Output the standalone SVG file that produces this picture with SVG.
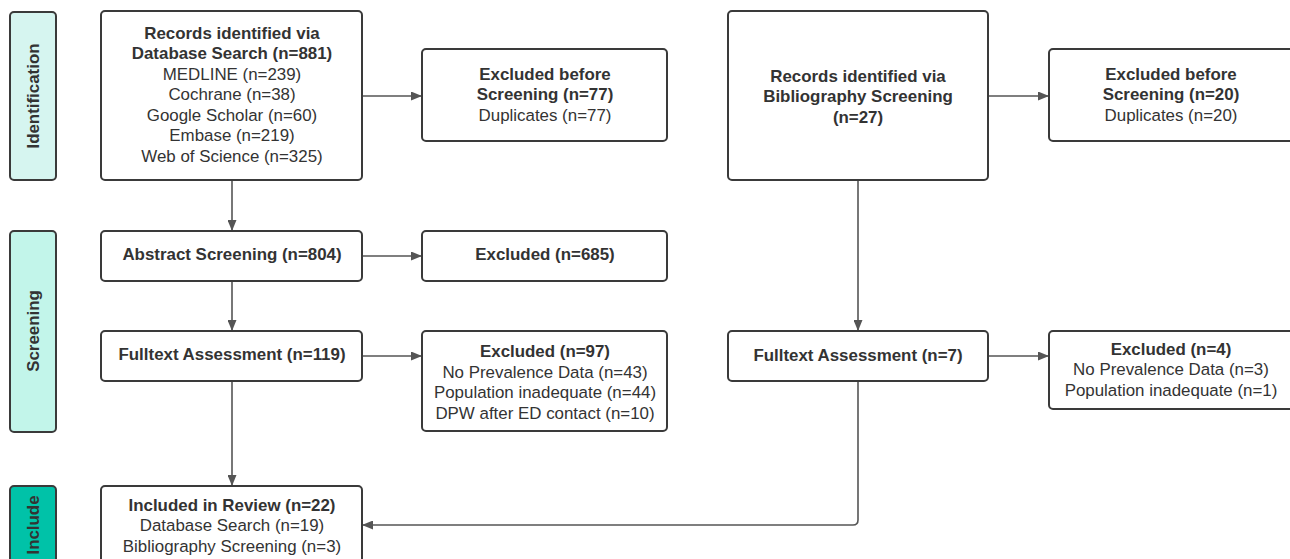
<svg xmlns="http://www.w3.org/2000/svg" width="1290" height="559" viewBox="0 0 1290 559">
<style>
.box{fill:#fff;stroke:#3a3a3a;stroke-width:2}
.t{font-family:"Liberation Sans",Arial,sans-serif;font-size:16.9px;fill:#333;text-anchor:middle}
.b{font-weight:bold}
.side{stroke:#3a3a3a;stroke-width:2}
.c{fill:none;stroke:#555;stroke-width:1.6}
</style>
<defs>
<marker id="ah" viewBox="0 0 11 9" refX="11" refY="4.5" markerWidth="11" markerHeight="9" markerUnits="userSpaceOnUse" orient="auto">
<path d="M0,0 L11,4.5 L0,9 Z" fill="#555"/>
</marker>
</defs>
<rect width="1290" height="559" fill="#fff"/>

<g id="lane-identification">
<rect class="side" x="10" y="12" width="46" height="168" rx="4" fill="#d6f5f0"/>
<text class="t b" transform="translate(39,96) rotate(-90)">Identification</text>
</g>
<g id="lane-screening">
<rect class="side" x="10" y="231" width="46" height="201" rx="4" fill="#c2f5ea"/>
<text class="t b" transform="translate(39,331) rotate(-90)">Screening</text>
</g>
<g id="lane-include">
<rect class="side" x="10" y="486" width="46" height="90" rx="4" fill="#00c2a8"/>
<text class="t b" transform="translate(39,525) rotate(-90)">Include</text>
</g>

<g id="connectors">
<line class="c" x1="362" y1="96" x2="422" y2="96" marker-end="url(#ah)"/>
<line class="c" x1="232" y1="180" x2="232" y2="231" marker-end="url(#ah)"/>
<line class="c" x1="362" y1="256" x2="422" y2="256" marker-end="url(#ah)"/>
<line class="c" x1="232" y1="281" x2="232" y2="331" marker-end="url(#ah)"/>
<line class="c" x1="362" y1="356" x2="422" y2="356" marker-end="url(#ah)"/>
<line class="c" x1="232" y1="381" x2="232" y2="486" marker-end="url(#ah)"/>
<line class="c" x1="988" y1="96" x2="1049" y2="96" marker-end="url(#ah)"/>
<line class="c" x1="858" y1="180" x2="858" y2="331" marker-end="url(#ah)"/>
<line class="c" x1="988" y1="356" x2="1049" y2="356" marker-end="url(#ah)"/>
<path class="c" d="M858,381 L858,520 Q858,525 853,525 L362,525" marker-end="url(#ah)"/>
</g>

<g id="db-search">
<rect class="box" x="101" y="11" width="261" height="169" rx="4"/>
<text class="t b" x="232" y="39">Records identified via</text>
<text class="t b" x="232" y="59">Database Search (n=881)</text>
<text class="t" x="232" y="80">MEDLINE (n=239)</text>
<text class="t" x="232" y="100">Cochrane (n=38)</text>
<text class="t" x="232" y="121">Google Scholar (n=60)</text>
<text class="t" x="232" y="141">Embase (n=219)</text>
<text class="t" x="232" y="162">Web of Science (n=325)</text>
</g>
<g id="excl-before-77">
<rect class="box" x="422" y="49" width="245" height="92" rx="4"/>
<text class="t b" x="545" y="80">Excluded before</text>
<text class="t b" x="545" y="100">Screening (n=77)</text>
<text class="t" x="545" y="121">Duplicates (n=77)</text>
</g>
<g id="biblio">
<rect class="box" x="728" y="11" width="260" height="169" rx="4"/>
<text class="t b" x="858" y="82">Records identified via</text>
<text class="t b" x="858" y="102">Bibliography Screening</text>
<text class="t b" x="858" y="123">(n=27)</text>
</g>
<g id="excl-before-20">
<rect class="box" x="1049" y="49" width="245" height="92" rx="4"/>
<text class="t b" x="1171" y="80">Excluded before</text>
<text class="t b" x="1171" y="100">Screening (n=20)</text>
<text class="t" x="1171" y="121">Duplicates (n=20)</text>
</g>
<g id="abstract">
<rect class="box" x="101" y="231" width="261" height="50" rx="4"/>
<text class="t b" x="232" y="260">Abstract Screening (n=804)</text>
</g>
<g id="excl-685">
<rect class="box" x="422" y="231" width="245" height="50" rx="4"/>
<text class="t b" x="545" y="260">Excluded (n=685)</text>
</g>
<g id="fulltext-119">
<rect class="box" x="101" y="331" width="261" height="50" rx="4"/>
<text class="t b" x="232" y="360">Fulltext Assessment (n=119)</text>
</g>
<g id="excl-97">
<rect class="box" x="422" y="331" width="245" height="100" rx="4"/>
<text class="t b" x="545" y="357">Excluded (n=97)</text>
<text class="t" x="545" y="378">No Prevalence Data (n=43)</text>
<text class="t" x="545" y="398">Population inadequate (n=44)</text>
<text class="t" x="545" y="419">DPW after ED contact (n=10)</text>
</g>
<g id="fulltext-7">
<rect class="box" x="728" y="331" width="260" height="50" rx="4"/>
<text class="t b" x="858" y="361">Fulltext Assessment (n=7)</text>
</g>
<g id="excl-4">
<rect class="box" x="1049" y="331" width="245" height="78" rx="4"/>
<text class="t b" x="1171" y="355">Excluded (n=4)</text>
<text class="t" x="1171" y="375">No Prevalence Data (n=3)</text>
<text class="t" x="1171" y="396">Population inadequate (n=1)</text>
</g>
<g id="included">
<rect class="box" x="101" y="486" width="261" height="90" rx="4"/>
<text class="t b" x="232" y="511">Included in Review (n=22)</text>
<text class="t" x="232" y="531">Database Search (n=19)</text>
<text class="t" x="232" y="552">Bibliography Screening (n=3)</text>
</g>
</svg>
